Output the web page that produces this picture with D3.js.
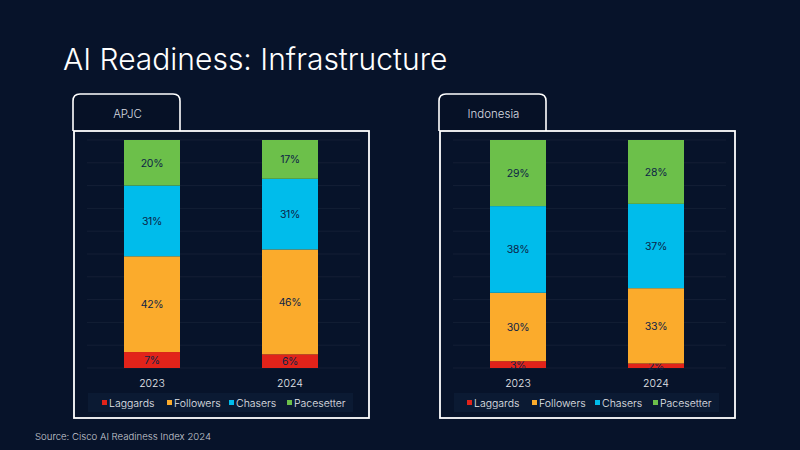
<!DOCTYPE html>
<html><head><meta charset="utf-8">
<script src="https://cdn.jsdelivr.net/npm/d3@7"></script>
<style>
html,body{margin:0;padding:0;background:#07132a;}
svg{display:block;}
</style></head>
<body>
<svg id="c" width="800" height="450"></svg>
<script>
const years = ["2023", "2024"];
const seriesNames = ["Laggards", "Followers", "Chasers", "Pacesetter"];
const seriesColors = ["#e2231a", "#fbab2c", "#00bceb", "#6cc04a"];
const apjcLaggards = [7, 6];
const apjcFollowers = [42, 46];
const apjcChasers = [31, 31];
const apjcPacesetter = [20, 17];
const indoLaggards = [3, 2];
const indoFollowers = [30, 33];
const indoChasers = [38, 37];
const indoPacesetter = [29, 28];
const gridTicks = [0, 10, 20, 30, 40, 50, 60, 70, 80, 90, 100];

const panels = [
  {name: "APJC", x: 74, data: [apjcLaggards, apjcFollowers, apjcChasers, apjcPacesetter],
   legendX: [102, 167, 229, 287]},
  {name: "Indonesia", x: 440, data: [indoLaggards, indoFollowers, indoChasers, indoPacesetter],
   legendX: [467, 532, 595, 653]}
];

const svg = d3.select("#c");
const font = "Inter, 'Open Sans', sans-serif";
svg.append("rect").attr("width", 800).attr("height", 450).attr("fill", "#07132a");

svg.append("text").attr("x", 63).attr("y", 70).attr("fill", "#ffffff")
  .attr("font-family", font).attr("font-weight", 300).attr("font-size", 30)
  .text("AI Readiness: Infrastructure");

svg.append("text").attr("x", 35).attr("y", 440).attr("fill", "#c8ccd4")
  .attr("font-family", font).attr("font-size", 9.6).attr("font-weight", 300)
  .text("Source: Cisco AI Readiness Index 2024");

const y = d3.scaleLinear().domain([0, 100]).range([368, 140]);

panels.forEach(p => {
  const g = svg.append("g");
  const bx = p.x, bw = 295, by = 131, bh = 287;
  const tx0 = bx - 1, tx1 = bx + 106, ty0 = 94, r = 7;
  g.append("path")
    .attr("d", `M${tx0},${by} L${tx0},${ty0 + r} Q${tx0},${ty0} ${tx0 + r},${ty0} L${tx1 - r},${ty0} Q${tx1},${ty0} ${tx1},${ty0 + r} L${tx1},${by}`)
    .attr("fill", "#061126").attr("stroke", "#ffffff").attr("stroke-width", 1.6);
  g.append("text").attr("x", (tx0 + tx1) / 2 + 1).attr("y", 118).attr("text-anchor", "middle")
    .attr("fill", "#d8dbe0").attr("font-family", font).attr("font-weight", 300).attr("font-size", 11.5).text(p.name);
  g.append("rect").attr("x", bx).attr("y", by).attr("width", bw).attr("height", bh)
    .attr("fill", "#07132a").attr("stroke", "#ffffff").attr("stroke-width", 1.8);

  const x = d3.scalePoint().domain(years).range([bx + 78, bx + 216]);
  const barW = 56;

  g.selectAll("line.grid").data(gridTicks).enter().append("line")
    .attr("x1", bx + 13).attr("x2", bx + 286)
    .attr("y1", d => y(d)).attr("y2", d => y(d))
    .attr("stroke", "#141f35").attr("stroke-width", 1);

  const rows = years.map((yr, i) => {
    const o = {year: yr};
    seriesNames.forEach((s, k) => o[s] = p.data[k][i]);
    return o;
  });
  const stack = d3.stack().keys(seriesNames)(rows);
  stack.forEach((layer, k) => {
    g.selectAll(null).data(layer).enter().append("rect")
      .attr("x", d => x(d.data.year) - barW / 2)
      .attr("width", barW)
      .attr("y", d => y(d[1]))
      .attr("height", d => y(d[0]) - y(d[1]))
      .attr("fill", seriesColors[k]);
    g.selectAll(null).data(layer).enter().append("text")
      .attr("x", d => x(d.data.year))
      .attr("y", d => (y(d[0]) + y(d[1])) / 2 + 4)
      .attr("text-anchor", "middle")
      .attr("fill", "#0d2447").attr("font-family", font).attr("font-size", 10.5)
      .attr("letter-spacing", -0.3)
      .text(d => (d[1] - d[0]) + "%");
  });

  g.selectAll(null).data(years).enter().append("text")
    .attr("x", d => x(d)).attr("y", 387).attr("text-anchor", "middle")
    .attr("fill", "#e6e8ec").attr("font-family", font).attr("font-weight", 300).attr("font-size", 10.5)
    .text(d => d);

  g.append("rect").attr("x", bx + 14).attr("y", 393).attr("width", 265).attr("height", 19)
    .attr("fill", "#0b1a33");
  seriesNames.forEach((s, k) => {
    g.append("rect").attr("x", p.legendX[k]).attr("y", 400).attr("width", 5).attr("height", 5)
      .attr("fill", seriesColors[k]);
    g.append("text").attr("x", p.legendX[k] + 7).attr("y", 406.5)
      .attr("fill", "#e6e8ec").attr("font-family", font).attr("font-weight", 300).attr("font-size", 10.5).text(s);
  });
});
</script>
</body></html>
